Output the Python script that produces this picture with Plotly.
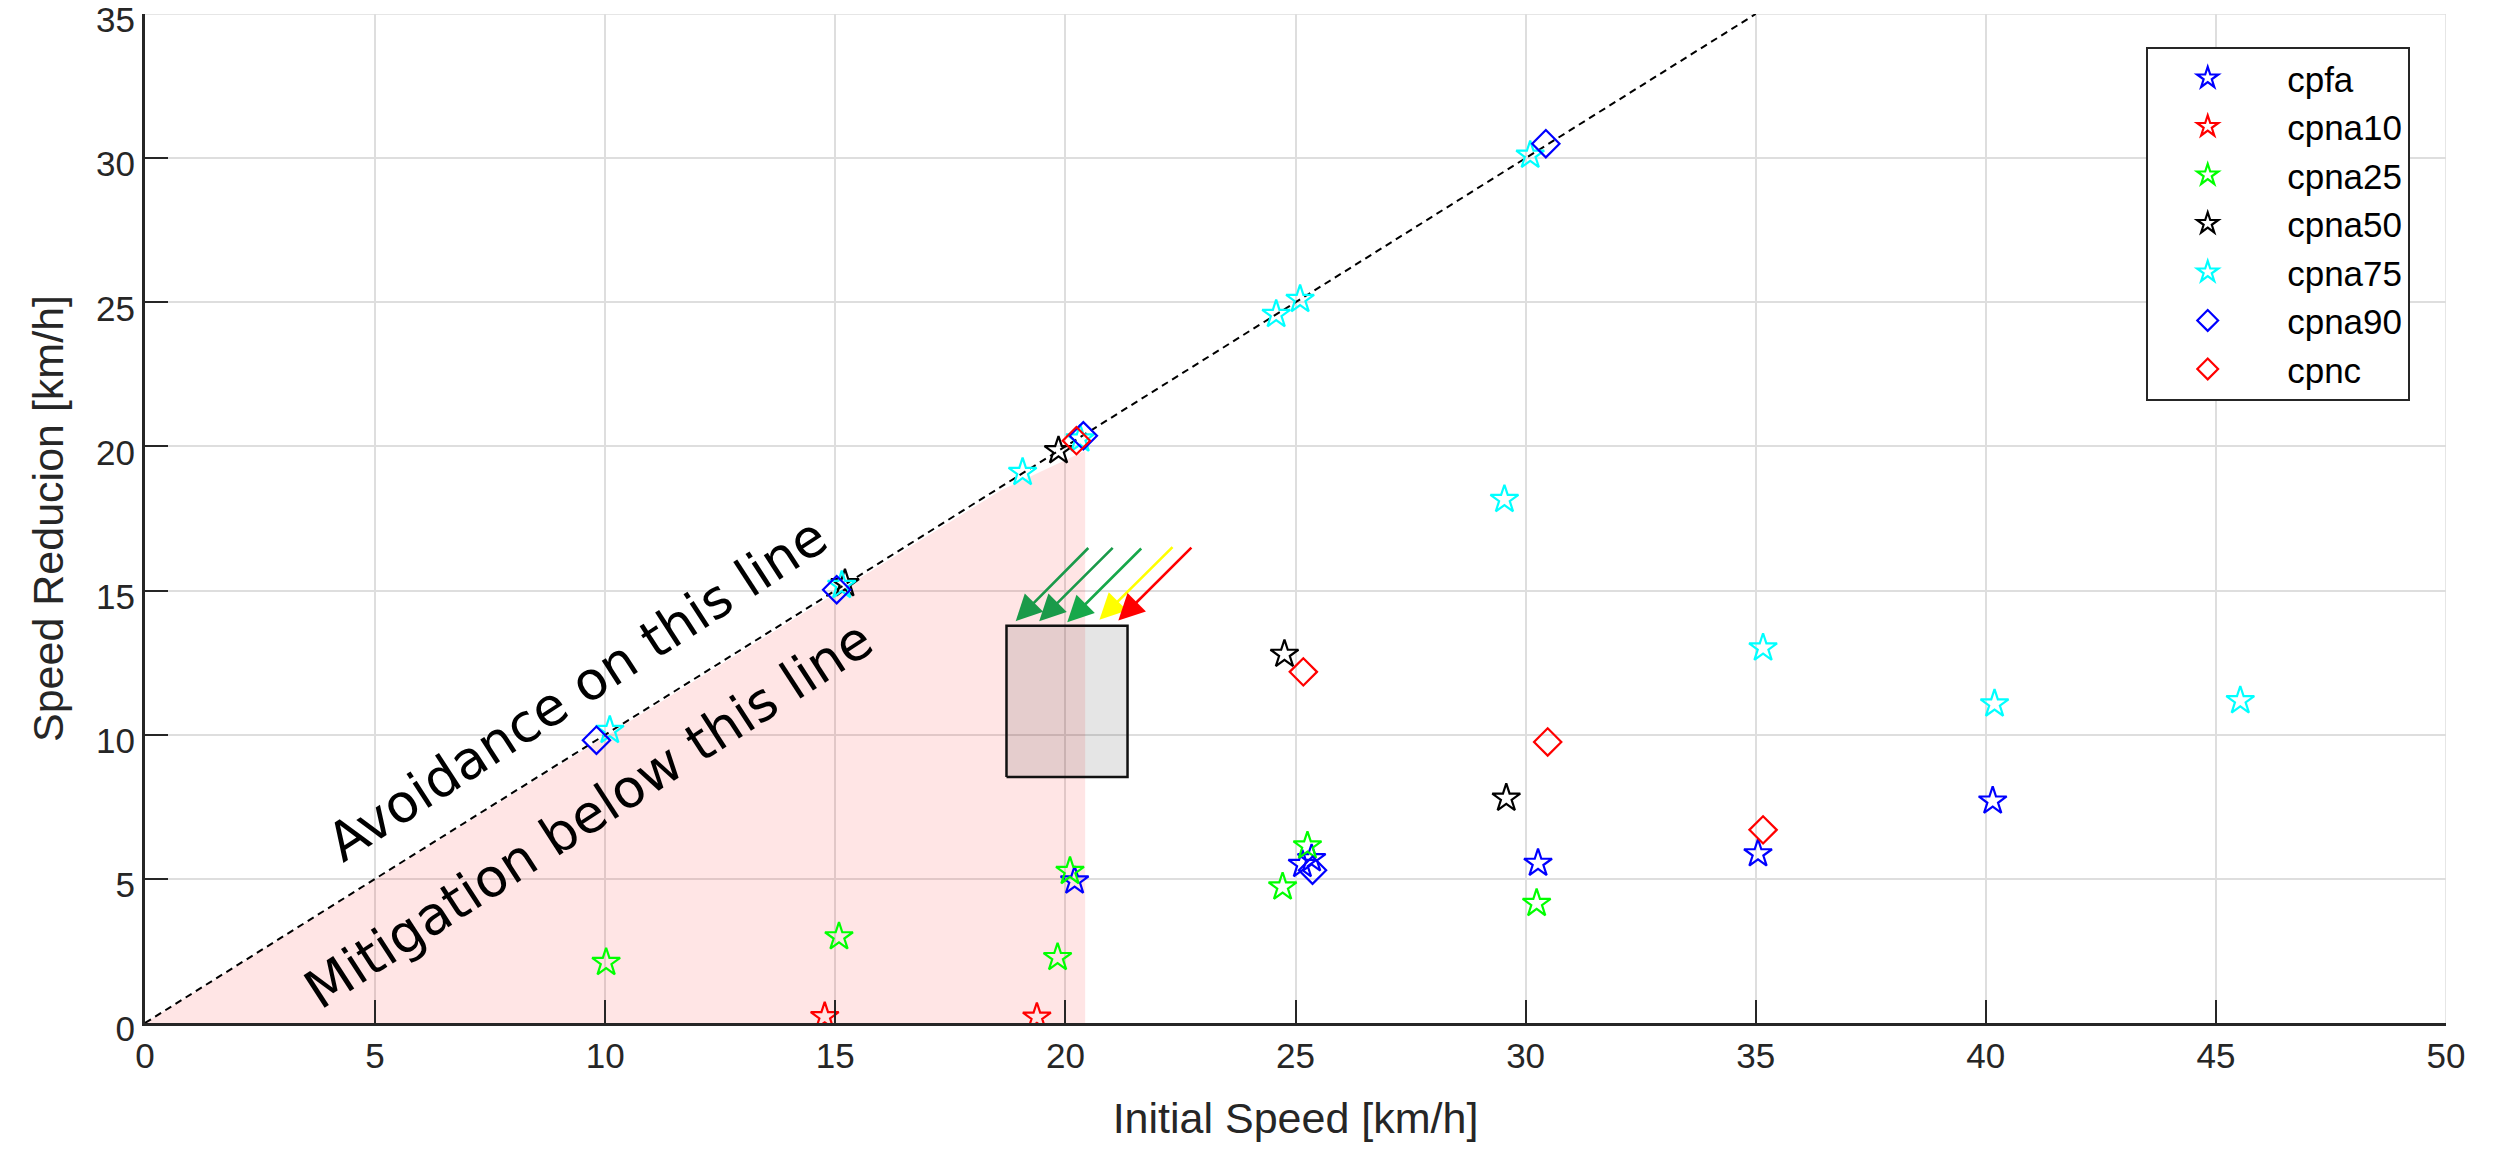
import plotly.graph_objects as go

# ---------------- data ----------------
series_names = ["cpfa", "cpna10", "cpna25", "cpna50", "cpna75", "cpna90", "cpnc"]

cpfa_x = [20.2, 25.15, 25.35, 30.27, 35.05, 40.15]
cpfa_y = [4.93, 5.5, 5.7, 5.54, 5.87, 7.7]

cpna10_x = [14.77, 19.38]
cpna10_y = [0.22, 0.2]

cpna25_x = [10.02, 15.08, 19.83, 20.1, 24.72, 25.26, 30.24]
cpna25_y = [2.1, 2.99, 2.27, 5.26, 4.72, 6.14, 4.15]

cpna50_x = [15.21, 19.85, 24.76, 29.58]
cpna50_y = [15.24, 19.85, 12.79, 7.8]

cpna75_x = [10.1, 15.14, 19.07, 20.32, 24.58, 25.1, 30.1, 29.54, 35.16, 40.19, 45.53]
cpna75_y = [10.15, 15.18, 19.1, 20.26, 24.58, 25.1, 30.1, 18.16, 13.01, 11.07, 11.18]

cpna90_x = [9.81, 15.03, 20.39, 30.44, 25.37]
cpna90_y = [9.81, 15.03, 20.37, 30.5, 5.3]

cpnc_x = [20.24, 25.17, 30.48, 35.16]
cpnc_y = [20.2, 12.18, 9.75, 6.7]

# reference line (avoidance)
line_x = [0, 35]
line_y = [0, 35]

# mitigation region
region_x = [0, 15.0, 18.6, 20.43, 20.43, 0]
region_y = [0, 14.9, 18.48, 19.85, 0, 0]

# grey box
box_x = [18.72, 21.35, 21.35, 18.72, 18.72]
box_y = [8.53, 8.53, 13.78, 13.78, 8.53]

# arrows: tail (start) and tip
arrow_tail_x = [20.53, 21.06, 21.68, 22.36, 22.77]
arrow_tail_y = [16.53, 16.53, 16.51, 16.56, 16.54]
arrow_tip_x = [18.92, 19.43, 20.04, 20.74, 21.15]
arrow_tip_y = [13.94, 13.94, 13.90, 13.99, 13.96]
arrow_colors = ["#1a9a4a", "#1a9a4a", "#17a84a", "#ffff00", "#ff0000"]

x_ticks = [0, 5, 10, 15, 20, 25, 30, 35, 40, 45, 50]
y_ticks = [0, 5, 10, 15, 20, 25, 30, 35]

# ---------------- figure ----------------
fig = go.Figure()

fig.add_trace(go.Scatter(x=region_x, y=region_y, mode="lines", fill="toself",
                         fillcolor="rgba(255,0,0,0.1)", line=dict(width=0),
                         showlegend=False, hoverinfo="skip"))
fig.add_trace(go.Scatter(x=box_x, y=box_y, mode="lines", fill="toself",
                         fillcolor="rgba(0,0,0,0.1)", line=dict(color="#111111", width=2.5),
                         showlegend=False, hoverinfo="skip"))
fig.add_trace(go.Scatter(x=line_x, y=line_y, mode="lines",
                         line=dict(color="black", width=2, dash="7px,5px"),
                         showlegend=False, hoverinfo="skip"))

star_size = 21
dia_size = 21
specs = [
    (cpfa_x, cpfa_y, "#0000ff", "star-open", star_size),
    (cpna10_x, cpna10_y, "#ff0000", "star-open", star_size),
    (cpna25_x, cpna25_y, "#00ff00", "star-open", star_size),
    (cpna50_x, cpna50_y, "#000000", "star-open", star_size),
    (cpna75_x, cpna75_y, "#00ffff", "star-open", star_size),
    (cpna90_x, cpna90_y, "#0000ff", "diamond-open", dia_size),
    (cpnc_x, cpnc_y, "#ff0000", "diamond-open", dia_size),
]
pad = "\u00a0\u00a0"
for name, (xs, ys, col, sym, sz) in zip(series_names, specs):
    fig.add_trace(go.Scatter(x=xs, y=ys, mode="markers", name=pad + name, legendgroup=name,
                             marker=dict(symbol=sym, size=sz, color=col,
                                         line=dict(color=col, width=2.2))))

for tx, ty, hx, hy, c in zip(arrow_tail_x, arrow_tail_y, arrow_tip_x, arrow_tip_y, arrow_colors):
    fig.add_annotation(x=hx, y=hy, ax=tx, ay=ty, xref="x", yref="y", axref="x", ayref="y",
                       showarrow=True, arrowhead=2, arrowsize=2.0, arrowwidth=2.6,
                       arrowcolor=c, standoff=0, text="")

fig.add_annotation(x=9.38, y=11.57, xref="x", yref="y", text="Avoidance on this line",
                   showarrow=False, textangle=-33,
                   font=dict(family="DejaVu Sans", size=53, color="black"))
fig.add_annotation(x=9.63, y=7.22, xref="x", yref="y", text="Mitigation below this line",
                   showarrow=False, textangle=-33,
                   font=dict(family="DejaVu Sans", size=53, color="black"))

axis_col = "#262626"
grid_col = "#dedede"

# grid lines at the far ends (plotly drops them when ticks are drawn)
fig.add_shape(type="line", xref="x", yref="y", x0=x_ticks[0], x1=x_ticks[-1],
              y0=y_ticks[-1], y1=y_ticks[-1], line=dict(color=grid_col, width=1.5), layer="below")
fig.add_shape(type="line", xref="x", yref="y", x0=x_ticks[-1], x1=x_ticks[-1],
              y0=y_ticks[0], y1=y_ticks[-1], line=dict(color=grid_col, width=1.5), layer="below")

fig.update_layout(
    width=2503, height=1149,
    margin=dict(l=145, r=57, t=14, b=126, autoexpand=False),
    paper_bgcolor="white", plot_bgcolor="white",
    font=dict(family="Liberation Sans, Arial", color=axis_col),
    legend=dict(x=0.8695, y=0.9676, xanchor="left", yanchor="top",
                bgcolor="white", bordercolor=axis_col, borderwidth=2,
                font=dict(family="Liberation Sans, Arial", size=35, color="black"),
                itemwidth=110, tracegroupgap=0),
    xaxis=dict(range=[0, 50], tickvals=x_ticks, ticktext=[str(v) for v in x_ticks],
               showgrid=True, gridcolor=grid_col, gridwidth=1.5,
               ticks="inside", ticklen=23, tickwidth=2, tickcolor=axis_col,
               showline=True, linecolor=axis_col, linewidth=3, mirror=False,
               zeroline=False, tickfont=dict(size=35, color=axis_col),
               ticklabeloverflow="allow", automargin=False,
               title=dict(text="Initial Speed [km/h]", font=dict(size=43, color=axis_col),
                          standoff=29)),
    yaxis=dict(range=[0, 35], tickvals=y_ticks, ticktext=[str(v) for v in y_ticks],
               showgrid=True, gridcolor=grid_col, gridwidth=1.5,
               ticks="inside", ticklen=23, tickwidth=2, tickcolor=axis_col,
               showline=True, linecolor=axis_col, linewidth=3, mirror=False,
               zeroline=False, tickfont=dict(size=35, color=axis_col),
               ticklabeloverflow="allow", automargin=False, ticklabelshift=6,
               title=dict(text="Speed Reducion [km/h]", font=dict(size=43, color=axis_col),
                          standoff=20)),
)

fig.write_html("out.html", config={"displayModeBar": False})

# remove the default page margin so the figure sits at the window origin
with open("out.html", "r", encoding="utf-8") as f:
    html = f.read()
html = html.replace("<head>", "<head><style>html,body{margin:0;padding:0;overflow:hidden;}</style>", 1)
with open("out.html", "w", encoding="utf-8") as f:
    f.write(html)
